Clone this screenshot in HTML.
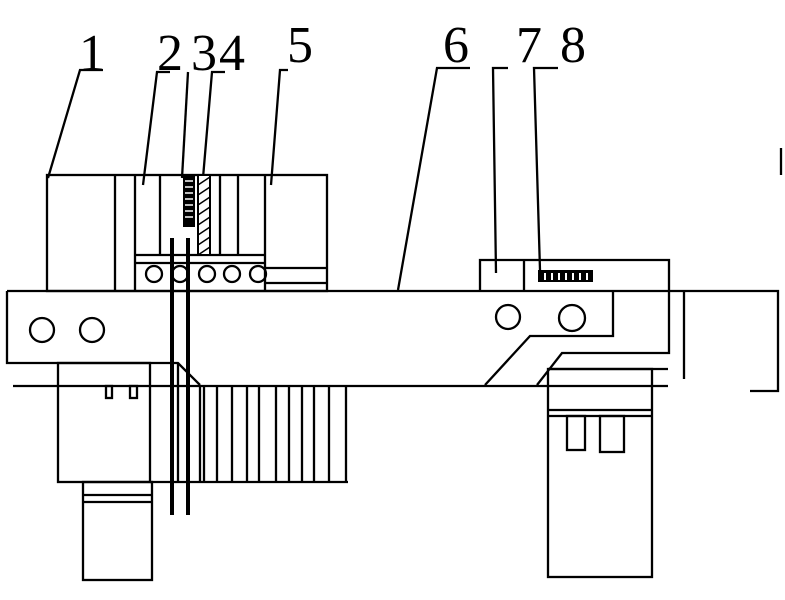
<!DOCTYPE html><html><head><style>body{margin:0;background:#fff}svg{display:block}</style></head><body>
<svg width="785" height="600" viewBox="0 0 785 600" xmlns="http://www.w3.org/2000/svg">
<g fill="none" stroke="#000" stroke-width="2.3">
<rect x="47" y="175" width="280" height="116"/>
<line x1="115" y1="175" x2="115" y2="291"/>
<line x1="135" y1="175" x2="135" y2="291"/>
<line x1="160" y1="175" x2="160" y2="255"/>
<line x1="220" y1="175" x2="220" y2="255"/>
<line x1="238" y1="175" x2="238" y2="255"/>
<line x1="265" y1="175" x2="265" y2="291"/>
<line x1="135" y1="255" x2="265" y2="255"/>
<line x1="135" y1="263" x2="265" y2="263"/>
<line x1="265" y1="268" x2="327" y2="268"/>
<line x1="265" y1="283" x2="327" y2="283"/>
<circle cx="154" cy="274" r="8"/><circle cx="180" cy="274" r="8"/><circle cx="207" cy="274" r="8"/><circle cx="232" cy="274" r="8"/><circle cx="258" cy="274" r="8"/>
<polyline points="7,291 778,291 778,391 750,391"/>
<polyline points="7,291 7,363 178,363 200,385"/>
<polyline points="613,291 613,336 530,336 485,385"/>
<polyline points="480,291 480,260 669,260 669,353 562,353 537,385"/>
<line x1="524" y1="260" x2="524" y2="291"/>
<line x1="684" y1="291" x2="684" y2="379"/>
<line x1="13" y1="386" x2="668" y2="386"/>
<line x1="548" y1="369" x2="668" y2="369"/>
<circle cx="42" cy="330" r="12"/><circle cx="92" cy="330" r="12"/>
<circle cx="508" cy="317" r="12"/><circle cx="572" cy="318" r="13"/>
<rect x="58" y="363" width="92" height="119"/>
<rect x="106" y="386" width="6" height="12"/><rect x="130" y="386" width="7" height="12"/>
<rect x="83" y="482" width="69" height="98"/>
<line x1="83" y1="495" x2="152" y2="495"/><line x1="83" y1="502" x2="152" y2="502"/>
<line x1="150" y1="482" x2="348" y2="482"/>
<line x1="178" y1="363" x2="178" y2="482"/>
<line x1="200" y1="385" x2="200" y2="482"/>
<g>
<line x1="204" y1="386" x2="204" y2="482"/><line x1="217" y1="386" x2="217" y2="482"/><line x1="232" y1="386" x2="232" y2="482"/><line x1="247" y1="386" x2="247" y2="482"/><line x1="259" y1="386" x2="259" y2="482"/><line x1="276" y1="386" x2="276" y2="482"/><line x1="289" y1="386" x2="289" y2="482"/><line x1="302" y1="386" x2="302" y2="482"/><line x1="314" y1="386" x2="314" y2="482"/><line x1="329" y1="386" x2="329" y2="482"/><line x1="346" y1="386" x2="346" y2="482"/>
</g>
<rect x="548" y="369" width="104" height="208"/>
<line x1="548" y1="410" x2="652" y2="410"/><line x1="548" y1="416" x2="652" y2="416"/>
<rect x="567" y="416" width="18" height="34"/><rect x="600" y="416" width="24" height="36"/>
<polyline points="103,70 80,70 48,178"/>
<polyline points="170,72 157,72 143,185"/>
<line x1="188" y1="72" x2="182" y2="178"/>
<polyline points="225,72 212,72 203,178"/>
<polyline points="288,70 280,70 271,185"/>
<polyline points="470,68 437,68 398,290"/>
<polyline points="508,68 493,68 496,273"/>
<polyline points="558,68 534,68 540,270"/>
<line x1="781" y1="148" x2="781" y2="175"/>
</g>
<g stroke="#000" stroke-width="4"><line x1="172" y1="238" x2="172" y2="515"/><line x1="188" y1="238" x2="188" y2="515"/></g>
<rect x="183" y="175" width="12" height="52" fill="#000"/>
<g stroke="#fff" stroke-width="1.5"><line x1="185" y1="181" x2="193" y2="181"/><line x1="185" y1="187" x2="193" y2="187"/><line x1="185" y1="193" x2="193" y2="193"/><line x1="185" y1="199" x2="193" y2="199"/><line x1="185" y1="205" x2="193" y2="205"/><line x1="185" y1="211" x2="193" y2="211"/><line x1="185" y1="217" x2="193" y2="217"/></g>
<rect x="198" y="175" width="12" height="80" fill="#fff" stroke="#000" stroke-width="2"/>
<g stroke="#000" stroke-width="1.5"><line x1="198" y1="185" x2="210" y2="177"/><line x1="198" y1="195" x2="210" y2="187"/><line x1="198" y1="205" x2="210" y2="197"/><line x1="198" y1="215" x2="210" y2="207"/><line x1="198" y1="225" x2="210" y2="217"/><line x1="198" y1="235" x2="210" y2="227"/><line x1="198" y1="245" x2="210" y2="237"/><line x1="198" y1="255" x2="210" y2="247"/></g>
<rect x="538" y="270" width="55" height="12" fill="#000"/>
<g stroke="#fff" stroke-width="2"><line x1="545" y1="273" x2="545" y2="280"/><line x1="552" y1="273" x2="552" y2="280"/><line x1="559" y1="273" x2="559" y2="280"/><line x1="566" y1="273" x2="566" y2="280"/><line x1="573" y1="273" x2="573" y2="280"/><line x1="580" y1="273" x2="580" y2="280"/><line x1="587" y1="273" x2="587" y2="280"/></g>
<g font-family="Liberation Serif, serif" font-size="52" fill="#000">
<text x="79" y="70">1</text>
<text x="157" y="70">2</text><text x="191" y="70">3</text><text x="219" y="70">4</text>
<text x="287" y="62">5</text>
<text x="443" y="62">6</text>
<text x="516" y="62">7</text><text x="560" y="62">8</text>
</g>
</svg></body></html>
